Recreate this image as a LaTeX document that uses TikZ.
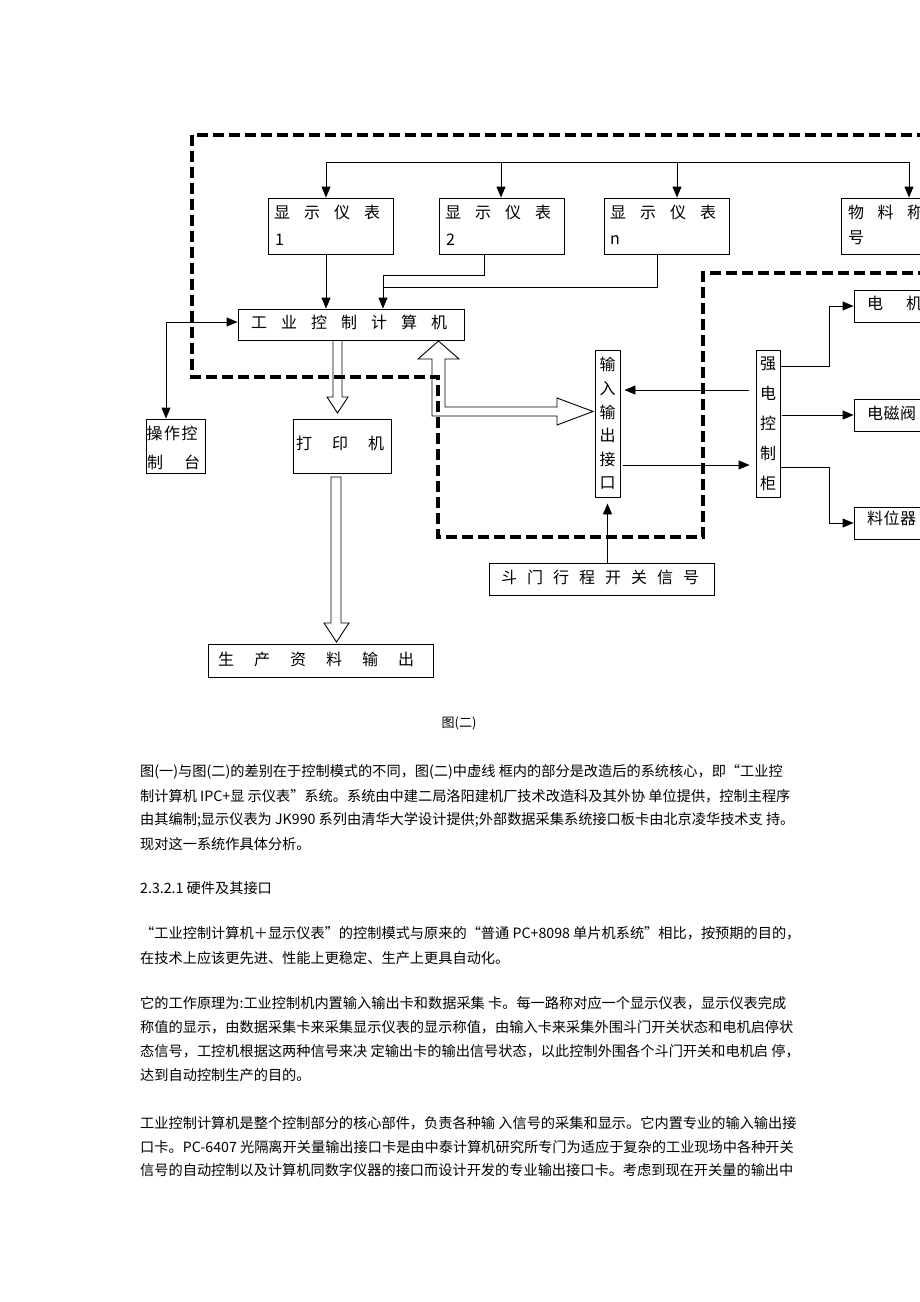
\documentclass[tikz,border=0pt]{standalone}
\usepackage{fontspec}
\setmainfont{Noto Sans CJK SC}
\usetikzlibrary{arrows.meta,calc}
\makeatletter
\newcommand\spacedtext[2]{\def\spt@gap{#1}\spt@aux#2\relax}
\def\spt@aux#1#2{\ifx#2\relax#1\else#1\hspace{\spt@gap}\expandafter\spt@aux\expandafter#2\fi}
\makeatother
\tikzset{
  box/.style={draw, line width=0.9pt, inner sep=0pt, fill=white},
  lbl/.style={inner sep=0pt, anchor=west, font=\fontsize{16}{19}\selectfont},
  body/.style={inner sep=0pt, anchor=west, font=\fontsize{14.2}{17}\selectfont},
  conn/.style={line width=0.9pt},
  arr/.style={line width=0.9pt, -{Triangle[length=11pt,width=9pt]}},
  arrtwo/.style={line width=0.9pt, {Triangle[length=11pt,width=9pt]}-{Triangle[length=11pt,width=9pt]}},
  hollow/.style={draw, line width=0.9pt, fill=white, line join=miter},
  frame/.style={line width=3.6pt, dash pattern=on 11pt off 5pt}
}
\begin{document}
\begin{tikzpicture}[x=1pt,y=-1pt]
\useasboundingbox (0,0) rectangle (920,1302);
\fill[white] (0,0) rectangle (920,1302);
\clip (0,0) rectangle (920,1302);

% ---------- boxes ----------
\node[box, minimum width=125pt, minimum height=56pt] (d1) at (330.5,226) {};
\node[box, minimum width=125pt, minimum height=56pt] (d2) at (501.5,226) {};
\node[box, minimum width=125pt, minimum height=56pt] (dn) at (666.5,226) {};
\node[box, minimum width=125pt, minimum height=56pt] (wl) at (903.5,226) {};
\node[box, minimum width=226pt, minimum height=31pt] (ipc) at (351,324.5) {};
\node[box, minimum width=59pt, minimum height=54pt] (czt) at (175.5,446) {};
\node[box, minimum width=98pt, minimum height=54pt] (dyj) at (342,446) {};
\node[box, minimum width=225pt, minimum height=33pt] (sc) at (320.5,660.5) {};
\node[box, minimum width=25pt, minimum height=147pt] (io) at (607.5,423.5) {};
\node[box, minimum width=24pt, minimum height=147pt] (qd) at (768,423.5) {};
\node[box, minimum width=225pt, minimum height=32pt] (dm) at (601.5,579) {};
\node[box, minimum width=126pt, minimum height=32pt] (dj) at (917,306) {};
\node[box, minimum width=126pt, minimum height=32pt] (dcf) at (917,415) {};
\node[box, minimum width=126pt, minimum height=32pt] (lwq) at (917,523) {};

% ---------- box labels ----------
\node[lbl] (d1a) at (274,212) {\spacedtext{14pt}{显示仪表}};
\node[lbl] (d1b) at (275,240) {1};
\node[lbl] (d2a) at (445,212) {\spacedtext{14pt}{显示仪表}};
\node[lbl] (d2b) at (446,240) {2};
\node[lbl] (dna) at (610,212) {\spacedtext{14pt}{显示仪表}};
\node[lbl] (dnb) at (610,240) {n};
\node[lbl] (wla) at (848,212) {\spacedtext{13.5pt}{物料称}};
\node[lbl] (wlb) at (848,238) {号};
\node[lbl] (ipct) at (251,322) {\spacedtext{14pt}{工业控制计算机}};
\node[lbl] (czta) at (146.5,433) {\spacedtext{1.5pt}{操作控}};
\node[lbl] (cztb) at (147,462) {\spacedtext{21pt}{制台}};
\node[lbl] (dyjt) at (296,443) {\spacedtext{20pt}{打印机}};
\node[lbl] (sct) at (218,659) {\spacedtext{20pt}{生产资料输出}};
\node[lbl] (dmt) at (501,577) {\spacedtext{10pt}{斗门行程开关信号}};
\node[lbl] (djt) at (867,303) {\spacedtext{23pt}{电机}};
\node[lbl] (dcft) at (867,413) {\spacedtext{0.5pt}{电磁阀}};
\node[lbl] (lwqt) at (867,518) {\spacedtext{0.5pt}{料位器}};
\node[inner sep=0pt, align=center, font=\fontsize{16}{23.6}\selectfont] (iot) at (io.center) {输\\入\\输\\出\\接\\口};
\node[inner sep=0pt, align=center, font=\fontsize{16}{30}\selectfont] (qdt) at (qd.center) {强\\电\\控\\制\\柜};

% ---------- thin connectors ----------
\coordinate (t1) at (326,162);
\coordinate (t2) at (501,162);
\coordinate (t3) at (677,162);
\coordinate (t4) at (909,162);
\draw[conn] (t1) -- (t4);
\draw[arr] (t1) -- (t1 |- d1.north);
\draw[arr] (t2) -- (t2 |- d2.north);
\draw[arr] (t3) -- (t3 |- dn.north);
\draw[arr] (t4) -- (t4 |- wl.north);

\draw[arr] (t1 |- d1.south) -- (t1 |- ipc.north);
\coordinate (c2a) at (484,275);
\coordinate (c2b) at (383,275);
\coordinate (cna) at (657,287);
\draw[arr] (c2a |- d2.south) -- (c2a) -- (c2b) -- (c2b |- ipc.north);
\draw[conn] (cna |- dn.south) -- (cna) -- (cna -| c2b);

\coordinate (c3) at (166,322);
\draw[arrtwo] (c3 -| ipc.west) -- (c3) -- (c3 |- czt.north);

\coordinate (y390) at (700,390);
\coordinate (y465) at (700,465);
\draw[arr, shorten <=7pt, shorten >=4pt] (y390 -| qd.west) -- (y390 -| io.east);
\draw[arr, shorten <=3pt, shorten >=6pt] (y465 -| io.east) -- (y465 -| qd.west);
\draw[arr, shorten >=6pt] (io.south |- dm.north) -- (io.south);

\coordinate (k1) at (829,366);
\coordinate (k2) at (829,467);
\draw[arr] (k1 -| qd.east) -- (k1) -- (k1 |- dj.west) -- (dj.west);
\draw[arr, shorten <=2pt] (qd.east |- dcf.west) -- (dcf.west);
\draw[arr] (k2 -| qd.east) -- (k2) -- (k2 |- lwq.west) -- (lwq.west);

% ---------- hollow arrows ----------
\draw[hollow] (333,340.5) -- (342,340.5) -- (342,397) -- (348,397) -- (337.5,413) -- (327,397) -- (333,397) -- cycle;
\draw[hollow] (331,477) -- (341,477) -- (341,623) -- (349,623) -- (336.5,642) -- (324,623) -- (331,623) -- cycle;
\draw[hollow] (438.5,341) -- (459,359) -- (445,359) -- (445,407) -- (557,407) -- (557,398) -- (593,411.5) -- (557,425) -- (557,416) -- (432,416) -- (432,359) -- (418,359) -- cycle;

% ---------- dashed frame ----------
\draw[frame] (960,135) -- (192,135) -- (192,377) -- (438,377) -- (438,537) -- (703,537) -- (703,273) -- (960,273);

% ---------- caption and body text ----------
\node[inner sep=0pt, font=\fontsize{13}{16}\selectfont] (cap) at (459,723) {图(二)};

\node[body] (p1a) at (140,772) {图(一)与图(二)的差别在于控制模式的不同，图(二)中虚线 框内的部分是改造后的系统核心，即“工业控};
\node[body] (p1b) at (140,796) {制计算机 IPC+显 示仪表”系统。系统由中建二局洛阳建机厂技术改造科及其外协 单位提供，控制主程序};
\node[body] (p1c) at (140,820) {由其编制;显示仪表为 JK990 系列由清华大学设计提供;外部数据采集系统接口板卡由北京凌华技术支 持。};
\node[body] (p1d) at (140,844) {现对这一系统作具体分析。};

\node[body] (h1) at (140,888) {2.3.2.1 硬件及其接口};

\node[body] (p2a) at (140,933) {“工业控制计算机＋显示仪表”的控制模式与原来的“普通 PC+8098 单片机系统”相比，按预期的目的，};
\node[body] (p2b) at (140,958) {在技术上应该更先进、性能上更稳定、生产上更具自动化。};

\node[body] (p3a) at (140,1003) {它的工作原理为:工业控制机内置输入输出卡和数据采集 卡。每一路称对应一个显示仪表，显示仪表完成};
\node[body] (p3b) at (140,1027) {称值的显示，由数据采集卡来采集显示仪表的显示称值，由输入卡来采集外围斗门开关状态和电机启停状};
\node[body] (p3c) at (140,1051) {态信号，工控机根据这两种信号来决 定输出卡的输出信号状态，以此控制外围各个斗门开关和电机启 停，};
\node[body] (p3d) at (140,1075) {达到自动控制生产的目的。};

\node[body] (p4a) at (140,1123) {工业控制计算机是整个控制部分的核心部件，负责各种输 入信号的采集和显示。它内置专业的输入输出接};
\node[body] (p4b) at (140,1147) {口卡。PC-6407 光隔离开关量输出接口卡是由中泰计算机研究所专门为适应于复杂的工业现场中各种开关};
\node[body] (p4c) at (140,1170) {信号的自动控制以及计算机同数字仪器的接口而设计开发的专业输出接口卡。考虑到现在开关量的输出中};
\end{tikzpicture}
\end{document}
